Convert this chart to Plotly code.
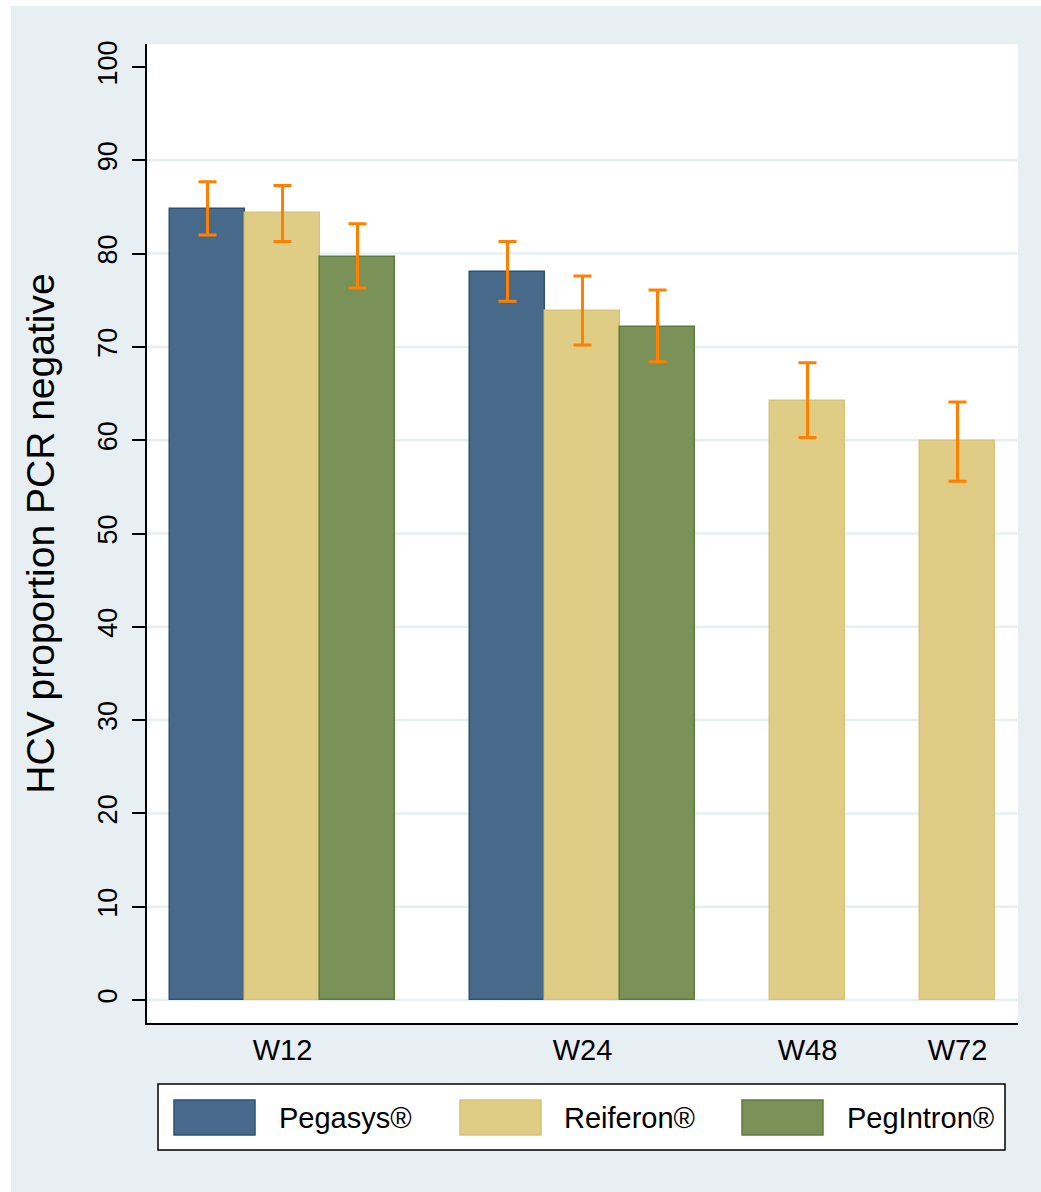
import plotly.graph_objects as go

# ---- data -------------------------------------------------------------
categories = ["W12", "W24", "W48", "W72"]
series_names = ["Pegasys®", "Reiferon®", "PegIntron®"]

pegasys = [84.8, 78.0, None, None]
reiferon = [84.3, 73.8, 64.2, 59.9]
pegintron = [79.6, 72.1, None, None]

pegasys_hi = [87.7, 81.3, None, None]
pegasys_lo = [82.0, 74.9, None, None]
reiferon_hi = [87.3, 77.6, 68.3, 64.1]
reiferon_lo = [81.3, 70.2, 60.3, 55.6]
pegintron_hi = [83.2, 76.1, None, None]
pegintron_lo = [76.3, 68.4, None, None]

y_ticks = [0, 10, 20, 30, 40, 50, 60, 70, 80, 90, 100]

# ---- styling ----------------------------------------------------------
fills = ["#476a8b", "#e0cd85", "#7a9158"]
edges = ["#2e5074", "#d8c478", "#5d7c3c"]
err_color = "#ff8000"
bg = "#e8eff2"
font_family = "Liberation Sans, Arial, Helvetica, sans-serif"

values = [pegasys, reiferon, pegintron]
highs = [pegasys_hi, reiferon_hi, pegintron_hi]
lows = [pegasys_lo, reiferon_lo, pegintron_lo]

# bar slots: bars inside a group sit side by side, one empty slot between groups
slot_x = [[None] * len(categories) for _ in values]
centers = []
slot = 0
for ci in range(len(categories)):
    members = [si for si in range(len(values)) if values[si][ci] is not None]
    first = slot
    for si in members:
        slot_x[si][ci] = slot
        slot += 1
    centers.append((first + slot - 1) / 2)
    slot += 1
last_slot = slot - 2

# figure geometry (pixels)
W, H = 1041, 1192
L, R, T, B = 147, 1018, 44, 1023


def px(x):
    return (x - L) / (R - L)


def py(y):
    return (B - y) / (B - T)


fig = go.Figure()

for si, name in enumerate(series_names):
    xs, ys, up, dn = [], [], [], []
    for ci in range(len(categories)):
        v = values[si][ci]
        if v is None:
            continue
        xs.append(slot_x[si][ci])
        ys.append(v)
        up.append(highs[si][ci] - v)
        dn.append(v - lows[si][ci])
    fig.add_trace(go.Bar(
        x=xs, y=ys, name=name, width=1,
        marker=dict(color=fills[si], line=dict(color=edges[si], width=1.5)),
        error_y=dict(type="data", symmetric=False, array=up, arrayminus=dn,
                     color=err_color, thickness=3, width=9),
        showlegend=False,
    ))

# horizontal grid lines (none at the top limit)
for v in y_ticks[:-1]:
    fig.add_shape(type="line", xref="paper", yref="y", x0=0, x1=1, y0=v, y1=v,
                  line=dict(color=bg, width=2.5), layer="below")

# white page strips around the shaded background
fig.add_shape(type="rect", xref="paper", yref="paper", x0=px(0), x1=px(W),
              y0=py(6), y1=py(0), fillcolor="white", line_width=0, layer="below")
fig.add_shape(type="rect", xref="paper", yref="paper", x0=px(0), x1=px(11),
              y0=py(H), y1=py(0), fillcolor="white", line_width=0, layer="below")

# legend box with large swatches
fig.add_shape(type="rect", xref="paper", yref="paper", x0=px(158), x1=px(1005),
              y0=py(1150), y1=py(1084), fillcolor="white",
              line=dict(color="black", width=1.5))
sw_left = [174, 460, 742]
txt_left = [277, 562, 845]
for si, name in enumerate(series_names):
    fig.add_shape(type="rect", xref="paper", yref="paper",
                  x0=px(sw_left[si]), x1=px(sw_left[si] + 81),
                  y0=py(1135), y1=py(1100), fillcolor=fills[si],
                  line=dict(color=edges[si], width=1.5))
    fig.add_annotation(x=px(txt_left[si]), y=py(1118), xref="paper", yref="paper",
                       text=name, showarrow=False, xanchor="left", yanchor="middle",
                       font=dict(size=29, color="black", family=font_family))

pad = 0.307
fig.update_layout(
    width=W, height=H, autosize=False,
    margin=dict(l=L, r=W - R, t=T, b=H - B, pad=0),
    paper_bgcolor=bg, plot_bgcolor="white",
    barmode="overlay", bargap=0,
    font=dict(family=font_family, color="black"),
    xaxis=dict(
        range=[-0.5 - pad, last_slot + 0.5 + pad],
        tickmode="array", tickvals=centers, ticktext=categories,
        ticks="", showline=True, linecolor="black", linewidth=1.5,
        showgrid=False, zeroline=False, tickfont=dict(size=29),
        ticklabelstandoff=0,
    ),
    yaxis=dict(
        range=[(B - 1000) / -9.33, (1000 - T) / 9.33],
        tickmode="array", tickvals=y_ticks, tickangle=-90,
        ticks="outside", ticklen=13, tickwidth=1.5, tickcolor="black",
        showline=True, linecolor="black", linewidth=1.5,
        showgrid=False, zeroline=False, tickfont=dict(size=27),
        ticklabelstandoff=4,
        title=dict(text="HCV proportion PCR negative", font=dict(size=39), standoff=27),
    ),
)

fig.write_html("out.html")
